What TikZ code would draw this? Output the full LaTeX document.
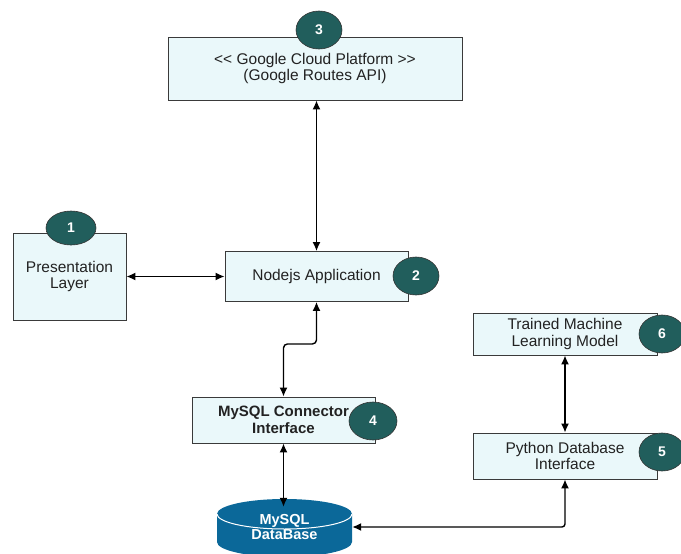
\documentclass[tikz,border=0pt]{standalone}
\usepackage{fontspec}
\setmainfont{Liberation Sans}
\usetikzlibrary{arrows.meta,shapes.geometric}
\definecolor{boxfill}{HTML}{EAF8FA}
\definecolor{boxline}{HTML}{3A3A3A}
\definecolor{badgefill}{HTML}{215E5C}
\definecolor{dbblue}{HTML}{0B6899}
\definecolor{txt}{HTML}{222222}
\begin{document}
\begin{tikzpicture}[x=1pt,y=-1pt,
  box/.style={draw=boxline, fill=boxfill, line width=0.9pt, inner sep=0pt,
    align=center, text=txt, font=\fontsize{15.5}{16.5}\selectfont},
  badge/.style={ellipse, draw=black!80, fill=badgefill, line width=0.6pt,
    inner sep=0pt, minimum width=46pt, minimum height=38pt,
    text=white, font=\fontsize{14}{16}\selectfont\bfseries},
  link/.style={{Latex[length=9pt,width=8pt]}-{Latex[length=9pt,width=8pt]}, line width=1.4pt, black}
]
\useasboundingbox (0,0) rectangle (681,554);

% boxes
\node[box, minimum width=294pt, minimum height=63pt] (gcp) at (315,68.5)
  {<\kern0pt< Google Cloud Platform >\kern0pt>\\(Google Routes API)};
\node[box, minimum width=113pt, minimum height=87pt] (pres) at (69.5,276.5)
  {Presentation\\Layer};
\node[box, minimum width=183pt, minimum height=50pt] (app) at (316.5,276.5)
  {Nodejs Application};
\node[box, minimum width=183pt, minimum height=46pt, font=\fontsize{15}{16.5}\selectfont\bfseries] (conn) at (283.5,420)
  {MySQL Connector\\Interface};
\node[box, minimum width=184pt, minimum height=42pt] (ml) at (565,334)
  {Trained Machine\\Learning Model};
\node[box, minimum width=184pt, minimum height=46pt] (py) at (565,456)
  {Python Database\\Interface};

% database cylinder
\fill[dbblue] (217,514) -- (217,542) arc[start angle=180, end angle=0, x radius=67.5, y radius=15]
  -- (352,514) arc[start angle=360, end angle=180, x radius=67.5, y radius=15] -- cycle;
\draw[white, line width=1pt] (217,514) arc[start angle=180, end angle=0, x radius=67.5, y radius=15];
\node[inner sep=0pt, minimum width=135pt, minimum height=40pt, align=center, text=white,
  font=\fontsize{14.5}{15}\selectfont\bfseries] (db) at (284.5,527) {MySQL\\DataBase};

% connectors
\draw[link] (gcp.south -| app.north) -- (app.north);
\draw[link] (pres.east) -- (app.west);
\draw[link, rounded corners=4pt] (app.south) -- ++(0,42) -| (conn.north);
\draw[link] (conn.south) -- (conn.south |- db.north);
\draw[link, rounded corners=3pt] (db.east) -| (py.south);
\draw[link] (ml.south) -- (py.north);

% badges
\node[badge] (b3) at (319,30) {3};
\node[badge, minimum width=50pt, minimum height=34pt] (b1) at (71,228) {1};
\node[badge] (b2) at (416,276) {2};
\node[badge, minimum width=48pt] (b4) at (373,421) {4};
\node[badge] (b6) at (662,334) {6};
\node[badge] (b5) at (662,452) {5};
\end{tikzpicture}
\end{document}
